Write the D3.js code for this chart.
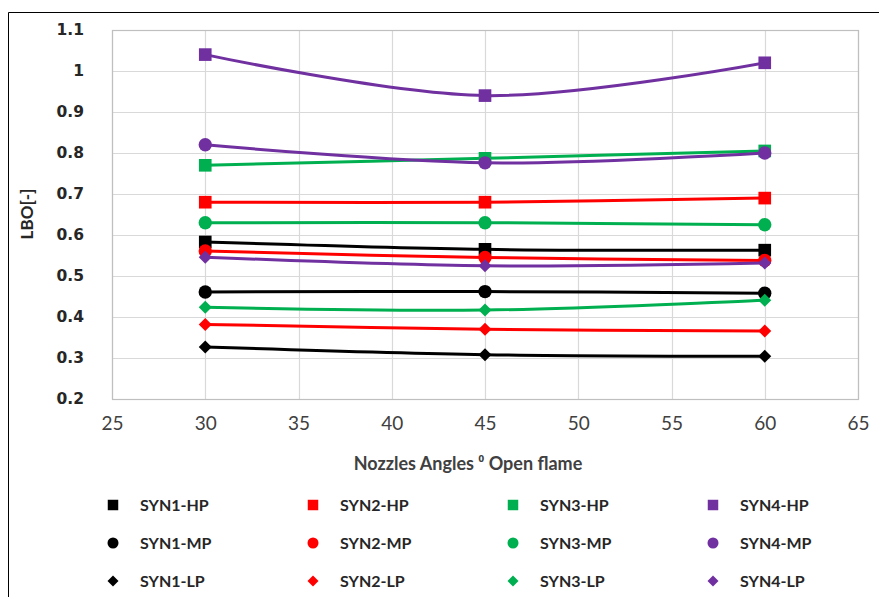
<!DOCTYPE html>
<html>
<head>
<meta charset="utf-8">
<script src="https://cdn.jsdelivr.net/npm/d3@7"></script>
<style>
  html, body { margin: 0; padding: 0; background: #fff; }
  svg { display: block; }
</style>
</head>
<body>
<svg id="chart" width="879" height="597"></svg>
<script>
// Nozzle angle (degrees) at which LBO was measured
const angles = [30, 45, 60];

// LBO [-] per gas mixture and pressure level
const syn1HP = [0.583, 0.565, 0.563];
const syn2HP = [0.680, 0.680, 0.690];
const syn3HP = [0.770, 0.787, 0.805];
const syn4HP = [1.040, 0.940, 1.020];
const syn1MP = [0.461, 0.462, 0.458];
const syn2MP = [0.561, 0.545, 0.538];
const syn3MP = [0.630, 0.630, 0.625];
const syn4MP = [0.820, 0.776, 0.800];
const syn1LP = [0.327, 0.308, 0.304];
const syn2LP = [0.382, 0.370, 0.366];
const syn3LP = [0.424, 0.417, 0.441];
const syn4LP = [0.546, 0.525, 0.532];

const seriesNames = ["SYN1-HP", "SYN2-HP", "SYN3-HP", "SYN4-HP",
                     "SYN1-MP", "SYN2-MP", "SYN3-MP", "SYN4-MP",
                     "SYN1-LP", "SYN2-LP", "SYN3-LP", "SYN4-LP"];
const seriesValues = [syn1HP, syn2HP, syn3HP, syn4HP,
                      syn1MP, syn2MP, syn3MP, syn4MP,
                      syn1LP, syn2LP, syn3LP, syn4LP];

const xTicks = [25, 30, 35, 40, 45, 50, 55, 60, 65];
const yTicks = [0.2, 0.3, 0.4, 0.5, 0.6, 0.7, 0.8, 0.9, 1.0, 1.1];
const yTickLabels = ["0.2", "0.3", "0.4", "0.5", "0.6", "0.7", "0.8", "0.9", "1", "1.1"];

const gasColors = {SYN1: "#000000", SYN2: "#ff0000", SYN3: "#00b050", SYN4: "#7030a0"};
const pressureMarker = {HP: "square", MP: "circle", LP: "diamond"};

const series = seriesNames.map((name, i) => {
  const [gas, level] = name.split("-");
  return {
    name,
    color: gasColors[gas],
    marker: pressureMarker[level],
    points: angles.map((a, j) => ({x: a, y: seriesValues[i][j]}))
  };
});

const svg = d3.select("#chart");

// outer frame
svg.append("path")
  .attr("d", "M8.5,597 L8.5,12.5 L879,12.5")
  .attr("fill", "none").attr("stroke", "#000").attr("stroke-width", 1);

const plot = {left: 112, right: 858, top: 30, bottom: 399};

const x = d3.scaleLinear().domain([25, 65]).range([plot.left, plot.right]);
const y = d3.scaleLinear().domain([0.2, 1.1]).range([plot.bottom, plot.top]);

// grid
const grid = svg.append("g");
grid.selectAll("line.h").data(yTicks).join("line")
  .attr("x1", plot.left).attr("x2", plot.right)
  .attr("y1", d => Math.round(y(d)) + 0.5).attr("y2", d => Math.round(y(d)) + 0.5)
  .attr("stroke", "#d9d9d9").attr("stroke-width", 1.2);
grid.selectAll("line.v").data(xTicks).join("line")
  .attr("y1", plot.top).attr("y2", plot.bottom)
  .attr("x1", d => Math.round(x(d)) + 0.5).attr("x2", d => Math.round(x(d)) + 0.5)
  .attr("stroke", "#d9d9d9").attr("stroke-width", 1.2);

// plot area border
svg.append("rect")
  .attr("x", plot.left + 0.5).attr("y", plot.top + 0.5)
  .attr("width", plot.right - plot.left).attr("height", plot.bottom - plot.top)
  .attr("fill", "none").attr("stroke", "#bfbfbf").attr("stroke-width", 1.2);

// y axis labels
const yAxis = d3.axisLeft(y).tickValues(yTicks)
  .tickFormat((d, i) => yTickLabels[i]).tickSize(0).tickPadding(0);
const yg = svg.append("g").attr("transform", `translate(84,0)`).call(yAxis);
yg.select(".domain").remove();
yg.selectAll("text")
  .attr("font-family", "'DejaVu Sans', sans-serif")
  .attr("font-weight", "bold").attr("font-size", 15.5).attr("fill", "#262626");

// x axis labels
const xAxis = d3.axisBottom(x).tickValues(xTicks).tickSize(0).tickPadding(0);
const xg = svg.append("g").attr("transform", `translate(0,416)`).call(xAxis);
xg.select(".domain").remove();
xg.selectAll("text")
  .attr("font-family", "Lato, sans-serif")
  .attr("font-size", 19).attr("fill", "#404040");

// axis titles
svg.append("text")
  .attr("x", 468).attr("y", 470).attr("text-anchor", "middle")
  .attr("font-family", "Lato, sans-serif").attr("font-weight", "bold")
  .attr("font-size", 18).attr("fill", "#404040")
  .text("Nozzles Angles \u2070 Open flame");

svg.append("text")
  .attr("transform", "translate(33,214) rotate(-90)")
  .attr("text-anchor", "middle")
  .attr("font-family", "Lato, sans-serif").attr("font-weight", "bold")
  .attr("font-size", 17).attr("fill", "#262626")
  .text("LBO[-]");

// marker shapes; the diamond is a square turned 45 degrees
const rhombus = r => `M0,${-r}L${r},0L0,${r}L${-r},0Z`;
const markerPath = {
  square: d3.symbol().type(d3.symbolSquare).size(160)(),
  circle: d3.symbol().type(d3.symbolCircle).size(140)(),
  diamond: rhombus(6.5)
};

const line = d3.line()
  .x(d => x(d.x)).y(d => y(d.y))
  .curve(d3.curveCardinal.tension(0));

const seriesG = svg.append("g").selectAll("g").data(series).join("g");
seriesG.append("path")
  .attr("d", d => line(d.points))
  .attr("fill", "none").attr("stroke", d => d.color)
  .attr("stroke-width", 3).attr("stroke-linejoin", "round").attr("stroke-linecap", "round");
seriesG.each(function (s) {
  d3.select(this).selectAll("path.m").data(s.points).join("path")
    .attr("class", "m")
    .attr("transform", d => `translate(${x(d.x)},${y(d.y)})`)
    .attr("d", markerPath[s.marker])
    .attr("fill", s.color);
});

// legend: 4 columns by 3 rows
const legendPath = {
  square: d3.symbol().type(d3.symbolSquare).size(110)(),
  circle: d3.symbol().type(d3.symbolCircle).size(95)(),
  diamond: rhombus(5.5)
};
const legend = svg.append("g");
const legendItems = legend.selectAll("g").data(series).join("g")
  .attr("transform", (d, i) => `translate(${113 + (i % 4) * 200},${505 + Math.floor(i / 4) * 38})`);
legendItems.append("path")
  .attr("d", d => legendPath[d.marker])
  .attr("fill", d => d.color);
legendItems.append("text")
  .attr("x", 27).attr("dy", "0.35em")
  .attr("font-family", "Lato, sans-serif").attr("font-weight", "bold")
  .attr("font-size", 16).attr("fill", "#262626")
  .text(d => d.name);
</script>
</body>
</html>
